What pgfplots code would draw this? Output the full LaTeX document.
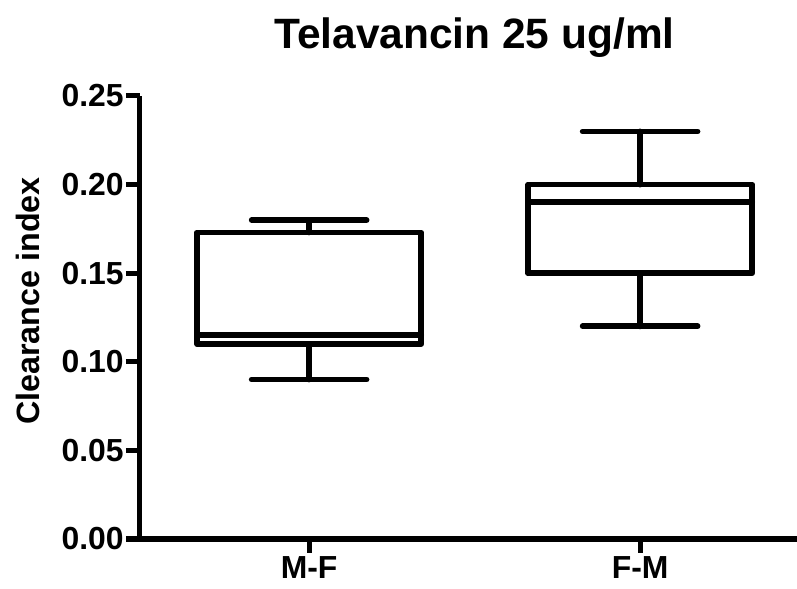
\documentclass[border=0pt]{standalone}
\usepackage{fontspec}
\setmainfont{Liberation Sans}
\usepackage{pgfplots}
\pgfplotsset{compat=1.18}

\begin{document}
\begin{tikzpicture}
\useasboundingbox (-70bp,-25bp) rectangle (328.5bp,269.5bp);
\begin{axis}[
  scale only axis, width=328.5bp, height=221.5bp,
  xmin=0.489, xmax=2.474, ymin=0, ymax=0.25,
  axis x line*=bottom, axis y line*=left,
  axis line style={-, line width=2.5bp},
  every tick/.style={black, line width=2.5bp},
  tick align=outside, major tick length=7bp,
  xtick={1,2}, xticklabels={M-F,F-M},
  ytick={0,0.05,0.10,0.15,0.20,0.25},
  /pgf/number format/.cd, fixed, fixed zerofill, precision=2, assume math mode=true,
  /pgfplots/.cd,
  ticklabel style={font=\fontsize{16}{18}\selectfont\bfseries},
  yticklabel style={inner xsep=1bp},
  xticklabel style={inner ysep=1.5bp},
  ylabel={Clearance index},
  every axis y label/.style={at={(rel axis cs:0,0.537)}, xshift=-56bp, rotate=90, anchor=center,
    font=\fontsize{16.2}{18}\selectfont\bfseries},
  title={Telavancin 25 ug/ml},
  every axis title/.style={at={(rel axis cs:0.5,1)}, anchor=base, yshift=23.5bp, xshift=3bp,
    font=\fontsize{21.3}{24}\selectfont\bfseries},
  clip=false,
  bx/.style={black, solid, line width=2.9bp, line join=round, line cap=round, mark=none},
]
% M-F: whiskers 0.09 / 0.18, quartiles 0.11 / 0.173, median 0.115
\addplot[bx] coordinates {(0.6615,0.11) (1.3385,0.11) (1.3385,0.173) (0.6615,0.173) (0.6615,0.11)};
\addplot[bx] coordinates {(0.6615,0.115) (1.3385,0.115)};
\addplot[bx] coordinates {(1,0.173) (1,0.18)};
\addplot[bx] coordinates {(0.8265,0.18) (1.1735,0.18)};
\addplot[bx] coordinates {(1,0.11) (1,0.09)};
\addplot[bx] coordinates {(0.8265,0.09) (1.1735,0.09)};
% F-M: whiskers 0.12 / 0.23, quartiles 0.15 / 0.20, median 0.19
\addplot[bx] coordinates {(1.6615,0.15) (2.3385,0.15) (2.3385,0.20) (1.6615,0.20) (1.6615,0.15)};
\addplot[bx] coordinates {(1.6615,0.19) (2.3385,0.19)};
\addplot[bx] coordinates {(2,0.20) (2,0.23)};
\addplot[bx] coordinates {(1.8265,0.23) (2.1735,0.23)};
\addplot[bx] coordinates {(2,0.15) (2,0.12)};
\addplot[bx] coordinates {(1.8265,0.12) (2.1735,0.12)};
\end{axis}
\end{tikzpicture}
\end{document}
